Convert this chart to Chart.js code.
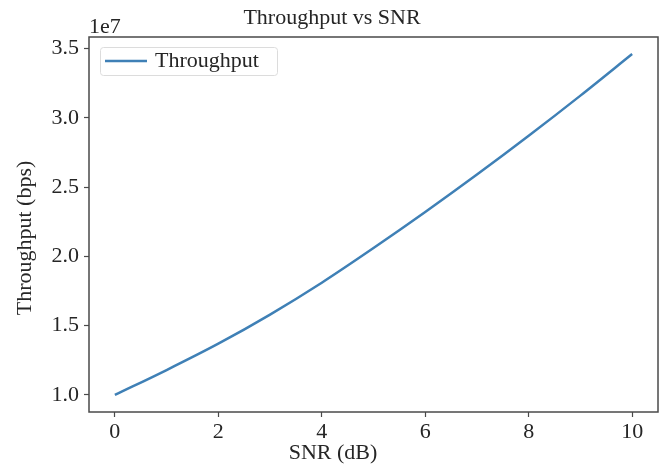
<!DOCTYPE html>
<html lang="en">
<head>
    <meta charset="UTF-8">
    <title>Throughput vs SNR</title>
    <script src="https://cdn.jsdelivr.net/npm/chart.js"></script>
    <style>
        body {
            margin: 0;
            background: #ffffff;
        }
        #wrap {
            width: 663px;
            height: 470px;
        }
    </style>
</head>
<body>
    <div id="wrap">
        <canvas id="snrChart" width="663" height="470"></canvas>
    </div>

    <script>
        // data
        const snrDb = [0, 1, 2, 3, 4, 5, 6, 7, 8, 9, 10];
        const throughput = [1.00e7, 1.18e7, 1.37e7, 1.58e7, 1.81e7, 2.06e7, 2.32e7, 2.59e7, 2.87e7, 3.16e7, 3.46e7];
        const xTicks = [0, 2, 4, 6, 8, 10];
        const yTicks = [1.0e7, 1.5e7, 2.0e7, 2.5e7, 3.0e7, 3.5e7];

        const serif = "'Liberation Serif', 'DejaVu Serif', serif";
        const lineColor = "#3f80b6";
        const textColor = "#262626";

        // frame, titles, offset text and legend, matplotlib style
        const decorations = {
            id: "decorations",
            afterDraw(chart) {
                const ctx = chart.ctx;
                const a = chart.chartArea;
                ctx.save();

                ctx.strokeStyle = "#4a4a4a";
                ctx.lineWidth = 1.5;
                ctx.strokeRect(a.left, a.top, a.right - a.left, a.bottom - a.top);

                ctx.fillStyle = textColor;
                ctx.font = "22px " + serif;
                ctx.textAlign = "center";
                ctx.textBaseline = "middle";
                ctx.fillText("Throughput vs SNR", 332, 18);
                ctx.fillText("SNR (dB)", 333, 453);

                ctx.save();
                ctx.translate(25, 238);
                ctx.rotate(-Math.PI / 2);
                ctx.fillText("Throughput (bps)", 0, 0);
                ctx.restore();

                ctx.textAlign = "left";
                ctx.textBaseline = "alphabetic";
                ctx.fillText("1e7", a.left, 33);

                // legend box
                const ds = chart.data.datasets[0];
                const bx = 100, by = 47, bw = 177, bh = 28;
                ctx.fillStyle = "rgba(255,255,255,0.8)";
                ctx.strokeStyle = "#dcdcdc";
                ctx.lineWidth = 1;
                ctx.beginPath();
                ctx.roundRect(bx + 0.5, by + 0.5, bw, bh, 3);
                ctx.fill();
                ctx.stroke();

                ctx.strokeStyle = ds.borderColor;
                ctx.lineWidth = 2.5;
                ctx.beginPath();
                ctx.moveTo(105, 61);
                ctx.lineTo(147, 61);
                ctx.stroke();

                ctx.fillStyle = textColor;
                ctx.textBaseline = "middle";
                ctx.fillText(ds.label, 155, 61);
                ctx.restore();
            }
        };

        new Chart(document.getElementById("snrChart"), {
            type: "line",
            data: {
                datasets: [{
                    label: "Throughput",
                    data: snrDb.map((x, i) => ({ x: x, y: throughput[i] })),
                    borderColor: lineColor,
                    borderWidth: 2.5,
                    pointRadius: 0,
                    cubicInterpolationMode: "monotone",
                    fill: false
                }]
            },
            options: {
                responsive: false,
                animation: false,
                layout: {
                    padding: { top: 37, right: 5, left: 0, bottom: 0 }
                },
                plugins: {
                    legend: { display: false },
                    title: { display: false },
                    tooltip: { enabled: false }
                },
                scales: {
                    x: {
                        type: "linear",
                        min: -0.5,
                        max: 10.5,
                        afterBuildTicks: scale => {
                            scale.ticks = xTicks.map(v => ({ value: v }));
                        },
                        afterFit: scale => { scale.height = 58; },
                        grid: {
                            drawOnChartArea: false,
                            tickLength: 5,
                            tickColor: "#4a4a4a",
                            tickWidth: 1.2
                        },
                        border: { display: false },
                        ticks: {
                            color: textColor,
                            padding: 2,
                            maxRotation: 0,
                            font: { family: serif, size: 22 },
                            callback: v => String(v)
                        }
                    },
                    y: {
                        min: 0.877e7,
                        max: 3.583e7,
                        afterBuildTicks: scale => {
                            scale.ticks = yTicks.map(v => ({ value: v }));
                        },
                        afterFit: scale => { scale.width = 89; },
                        grid: {
                            drawOnChartArea: false,
                            tickLength: 5,
                            tickColor: "#4a4a4a",
                            tickWidth: 1.2
                        },
                        border: { display: false },
                        ticks: {
                            color: textColor,
                            padding: 5,
                            font: { family: serif, size: 22 },
                            callback: v => (v / 1e7).toFixed(1)
                        }
                    }
                }
            },
            plugins: [decorations]
        });
    </script>
</body>
</html>
